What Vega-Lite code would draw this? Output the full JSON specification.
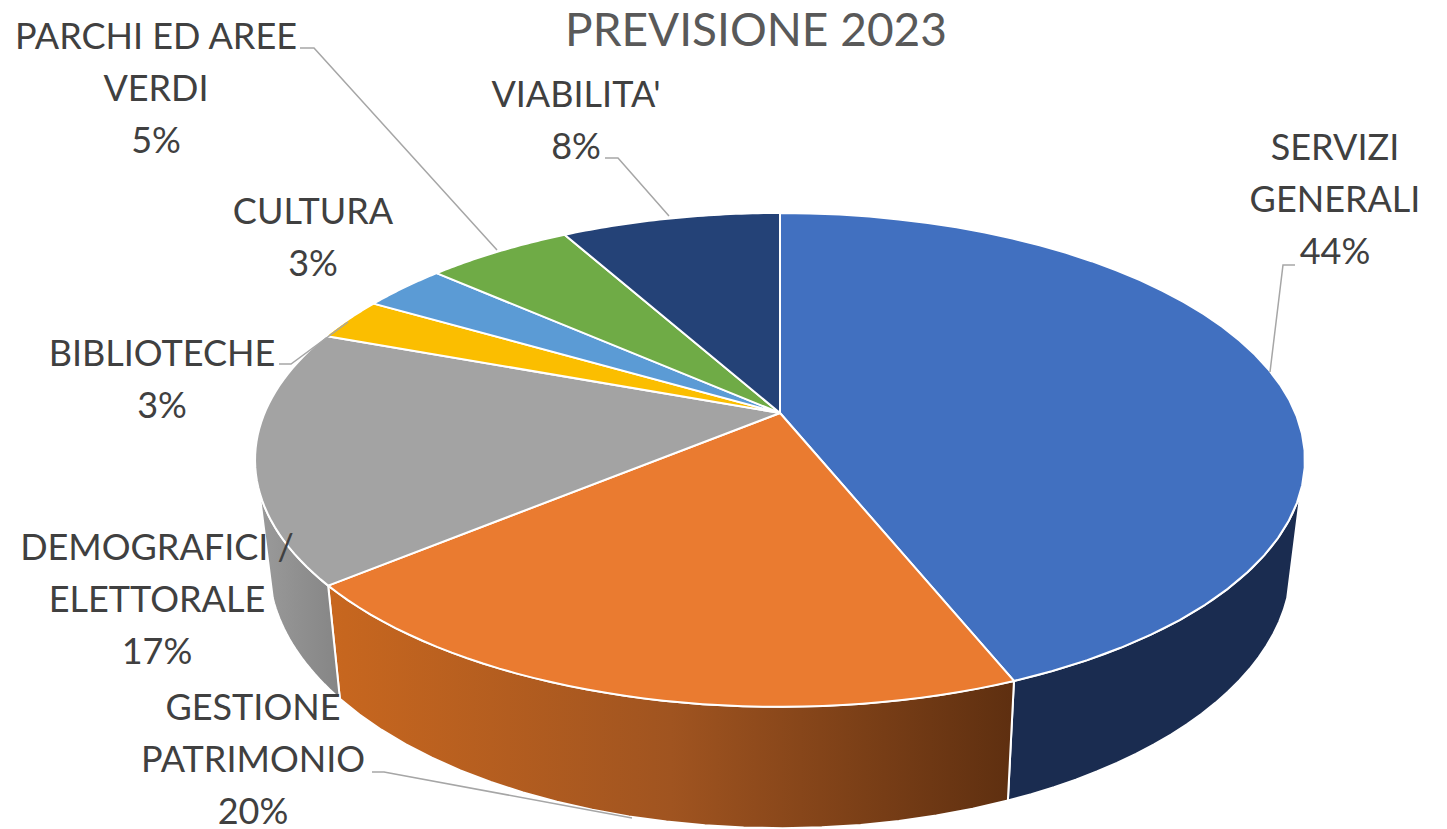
{
"$schema":"https://vega.github.io/schema/vega-lite/v6.json",
"width":1447,"height":829,"padding":0,"autosize":{"type":"none"},
"background":"white",
"view":{"stroke":null},
"datasets":{"slices":[
{"category":"SERVIZI GENERALI","lines":"SERVIZI\nGENERALI","share":43.9},
{"category":"GESTIONE PATRIMONIO","lines":"GESTIONE\nPATRIMONIO","share":20.1},
{"category":"DEMOGRAFICI / ELETTORALE","lines":"DEMOGRAFICI /\nELETTORALE","share":16.6},
{"category":"BIBLIOTECHE","lines":"BIBLIOTECHE","share":2.8},
{"category":"CULTURA","lines":"CULTURA","share":3.1},
{"category":"PARCHI ED AREE VERDI","lines":"PARCHI ED AREE\nVERDI","share":5.4},
{"category":"VIABILITA'","lines":"VIABILITA'","share":8.1}
]},
"data":{"name":"slices"},
"transform":[{"window":[{"op":"sum","field":"share","as":"end"}],"frame":[null,0],"ignorePeers":true},{"calculate":"datum.end-datum.share","as":"start"}],
"encoding":{
"x":{"field":"px","type":"quantitative","scale":{"domain":[0,1447],"nice":false,"zero":false},"axis":null},
"y":{"field":"py","type":"quantitative","scale":{"domain":[0,829],"reverse":true,"nice":false,"zero":false},"axis":null}
},
"layer":[
{"transform":[
{"filter":"datum.start<70 && datum.end>30"},
{"calculate":"max(datum.start,30)","as":"a0"},{"calculate":"min(datum.end,70)","as":"a1"},
{"calculate":"[0,0.05,0.1,0.15,0.2,0.25,0.3,0.35,0.4,0.45,0.5,0.55,0.6,0.65,0.7,0.75,0.8,0.85,0.9,0.95,1,2,2.05,2.1,2.15,2.2,2.25,2.3,2.35,2.4,2.45,2.5,2.55,2.6,2.65,2.7,2.75,2.8,2.85,2.9,2.95,3,4]","as":"s"},
{"flatten":["s"]},
{"calculate":"datum.s==4?datum.a0:(datum.s<=1?datum.a0+datum.s*(datum.a1-datum.a0):datum.a1-(datum.s-2)*(datum.a1-datum.a0))","as":"pct"},
{"calculate":"2*PI*datum.pct/100","as":"t"},
{"calculate":"1+0.19*cos(datum.t)","as":"w"},
{"calculate":"780+515.4*sin(datum.t)/datum.w","as":"tx"},
{"calculate":"413-238*cos(datum.t)/datum.w","as":"ty"},
{"calculate":"(datum.s>=2 && datum.s<=3)?780+0.974*(datum.tx-780):datum.tx","as":"px"},
{"calculate":"(datum.s>=2 && datum.s<=3)?74+1.067*datum.ty:datum.ty","as":"py"},
{"filter":"datum.category=='SERVIZI GENERALI'"}
],
"mark":{"type":"line","fill":"#1A2C50","stroke":"white","strokeWidth":2,"interpolate":"linear"},
"encoding":{"order":{"field":"s","type":"quantitative"}}},
{"transform":[
{"filter":"datum.start<70 && datum.end>30"},
{"calculate":"max(datum.start,30)","as":"a0"},{"calculate":"min(datum.end,70)","as":"a1"},
{"calculate":"[0,0.05,0.1,0.15,0.2,0.25,0.3,0.35,0.4,0.45,0.5,0.55,0.6,0.65,0.7,0.75,0.8,0.85,0.9,0.95,1,2,2.05,2.1,2.15,2.2,2.25,2.3,2.35,2.4,2.45,2.5,2.55,2.6,2.65,2.7,2.75,2.8,2.85,2.9,2.95,3,4]","as":"s"},
{"flatten":["s"]},
{"calculate":"datum.s==4?datum.a0:(datum.s<=1?datum.a0+datum.s*(datum.a1-datum.a0):datum.a1-(datum.s-2)*(datum.a1-datum.a0))","as":"pct"},
{"calculate":"2*PI*datum.pct/100","as":"t"},
{"calculate":"1+0.19*cos(datum.t)","as":"w"},
{"calculate":"780+515.4*sin(datum.t)/datum.w","as":"tx"},
{"calculate":"413-238*cos(datum.t)/datum.w","as":"ty"},
{"calculate":"(datum.s>=2 && datum.s<=3)?780+0.974*(datum.tx-780):datum.tx","as":"px"},
{"calculate":"(datum.s>=2 && datum.s<=3)?74+1.067*datum.ty:datum.ty","as":"py"},
{"filter":"datum.category=='GESTIONE PATRIMONIO'"}
],
"mark":{"type":"line","fill":{"gradient":"linear","x1":0,"x2":1,"y1":0,"y2":0,"stops":[{"offset":0,"color":"#C8671F"},{"offset":0.5,"color":"#A05420"},{"offset":1,"color":"#5E2F10"}]},"stroke":"white","strokeWidth":2},
"encoding":{"order":{"field":"s","type":"quantitative"}}},
{"transform":[
{"filter":"datum.start<70 && datum.end>30"},
{"calculate":"max(datum.start,30)","as":"a0"},{"calculate":"min(datum.end,70)","as":"a1"},
{"calculate":"[0,0.05,0.1,0.15,0.2,0.25,0.3,0.35,0.4,0.45,0.5,0.55,0.6,0.65,0.7,0.75,0.8,0.85,0.9,0.95,1,2,2.05,2.1,2.15,2.2,2.25,2.3,2.35,2.4,2.45,2.5,2.55,2.6,2.65,2.7,2.75,2.8,2.85,2.9,2.95,3,4]","as":"s"},
{"flatten":["s"]},
{"calculate":"datum.s==4?datum.a0:(datum.s<=1?datum.a0+datum.s*(datum.a1-datum.a0):datum.a1-(datum.s-2)*(datum.a1-datum.a0))","as":"pct"},
{"calculate":"2*PI*datum.pct/100","as":"t"},
{"calculate":"1+0.19*cos(datum.t)","as":"w"},
{"calculate":"780+515.4*sin(datum.t)/datum.w","as":"tx"},
{"calculate":"413-238*cos(datum.t)/datum.w","as":"ty"},
{"calculate":"(datum.s>=2 && datum.s<=3)?780+0.974*(datum.tx-780):datum.tx","as":"px"},
{"calculate":"(datum.s>=2 && datum.s<=3)?74+1.067*datum.ty:datum.ty","as":"py"},
{"filter":"datum.category=='DEMOGRAFICI / ELETTORALE'"}
],
"mark":{"type":"line","fill":{"gradient":"linear","x1":0,"x2":1,"y1":0,"y2":0,"stops":[{"offset":0,"color":"#9A9A9A"},{"offset":1,"color":"#858585"}]},"stroke":"white","strokeWidth":2},
"encoding":{"order":{"field":"s","type":"quantitative"}}},
{"transform":[
{"calculate":"[-1,0,0.025,0.05,0.075,0.1,0.125,0.15,0.175,0.2,0.225,0.25,0.275,0.3,0.325,0.35,0.375,0.4,0.425,0.45,0.475,0.5,0.525,0.55,0.575,0.6,0.625,0.65,0.675,0.7,0.725,0.75,0.775,0.8,0.825,0.85,0.875,0.9,0.925,0.95,0.975,1,2]","as":"s"},
{"flatten":["s"]},
{"calculate":"datum.start+datum.s*datum.share","as":"pct"},
{"calculate":"2*PI*datum.pct/100","as":"t"},
{"calculate":"1+0.19*cos(datum.t)","as":"w"},
{"calculate":"(datum.s<0||datum.s>1)?780:780+515.4*sin(datum.t)/datum.w","as":"px"},
{"calculate":"(datum.s<0||datum.s>1)?413:413-238*cos(datum.t)/datum.w","as":"py"}
],
"mark":{"type":"line","stroke":"white","strokeWidth":2,"strokeJoin":"round"},
"encoding":{
"order":{"field":"s","type":"quantitative"},
"fill":{"field":"category","type":"nominal","legend":null,"sort":null,"scale":{"domain":["SERVIZI GENERALI","GESTIONE PATRIMONIO","DEMOGRAFICI / ELETTORALE","BIBLIOTECHE","CULTURA","PARCHI ED AREE VERDI","VIABILITA'"],"range":["#4170C0","#EA7B30","#A3A3A3","#FBBE00","#5B9BD5","#6FAB46","#244277"]}}
}},
{"transform":[
{"filter":"datum.category!='CULTURA' && datum.category!='DEMOGRAFICI / ELETTORALE'"},
{"calculate":"{'SERVIZI GENERALI':[[1295,265],[1283,265],[1270,372]],'GESTIONE PATRIMONIO':[[372,772],[384,772],[632,818]],'BIBLIOTECHE':[[279,364],[291,364],[348,322]],'PARCHI ED AREE VERDI':[[300,48],[314,48],[497,250]],\"VIABILITA'\":[[605,158],[618,158],[669,216]]}[datum.category]","as":"p"},
{"flatten":["p"]},
{"calculate":"datum.p[0]","as":"px"},{"calculate":"datum.p[1]","as":"py"}
],
"mark":{"type":"line","stroke":"#A6A6A6","strokeWidth":1.5},
"encoding":{"detail":{"field":"category","type":"nominal"},"order":null}},
{"transform":[
{"calculate":"datum.lines+'\\n'+round(datum.share)+'%'","as":"label"},
{"calculate":"{'SERVIZI GENERALI':1335,'GESTIONE PATRIMONIO':253,'DEMOGRAFICI / ELETTORALE':157,'BIBLIOTECHE':162,'CULTURA':313,'PARCHI ED AREE VERDI':156,\"VIABILITA'\":576}[datum.category]","as":"px"},
{"calculate":"{'SERVIZI GENERALI':160,'GESTIONE PATRIMONIO':720,'DEMOGRAFICI / ELETTORALE':560,'BIBLIOTECHE':366,'CULTURA':224,'PARCHI ED AREE VERDI':49,\"VIABILITA'\":107}[datum.category]","as":"py"}
],
"mark":{"type":"text","font":"Lato","fontSize":36,"lineBreak":"\n","lineHeight":52,"align":"center","baseline":"alphabetic","color":"#404040"},
"encoding":{"text":{"field":"label","type":"nominal"}}},
{"data":{"values":[{"chartTitle":"PREVISIONE 2023"}]},
"transform":[{"calculate":"756","as":"px"},{"calculate":"46","as":"py"}],
"mark":{"type":"text","font":"Lato","fontSize":46,"align":"center","baseline":"alphabetic","color":"#595959"},
"encoding":{"text":{"field":"chartTitle","type":"nominal"}}}
]
}
